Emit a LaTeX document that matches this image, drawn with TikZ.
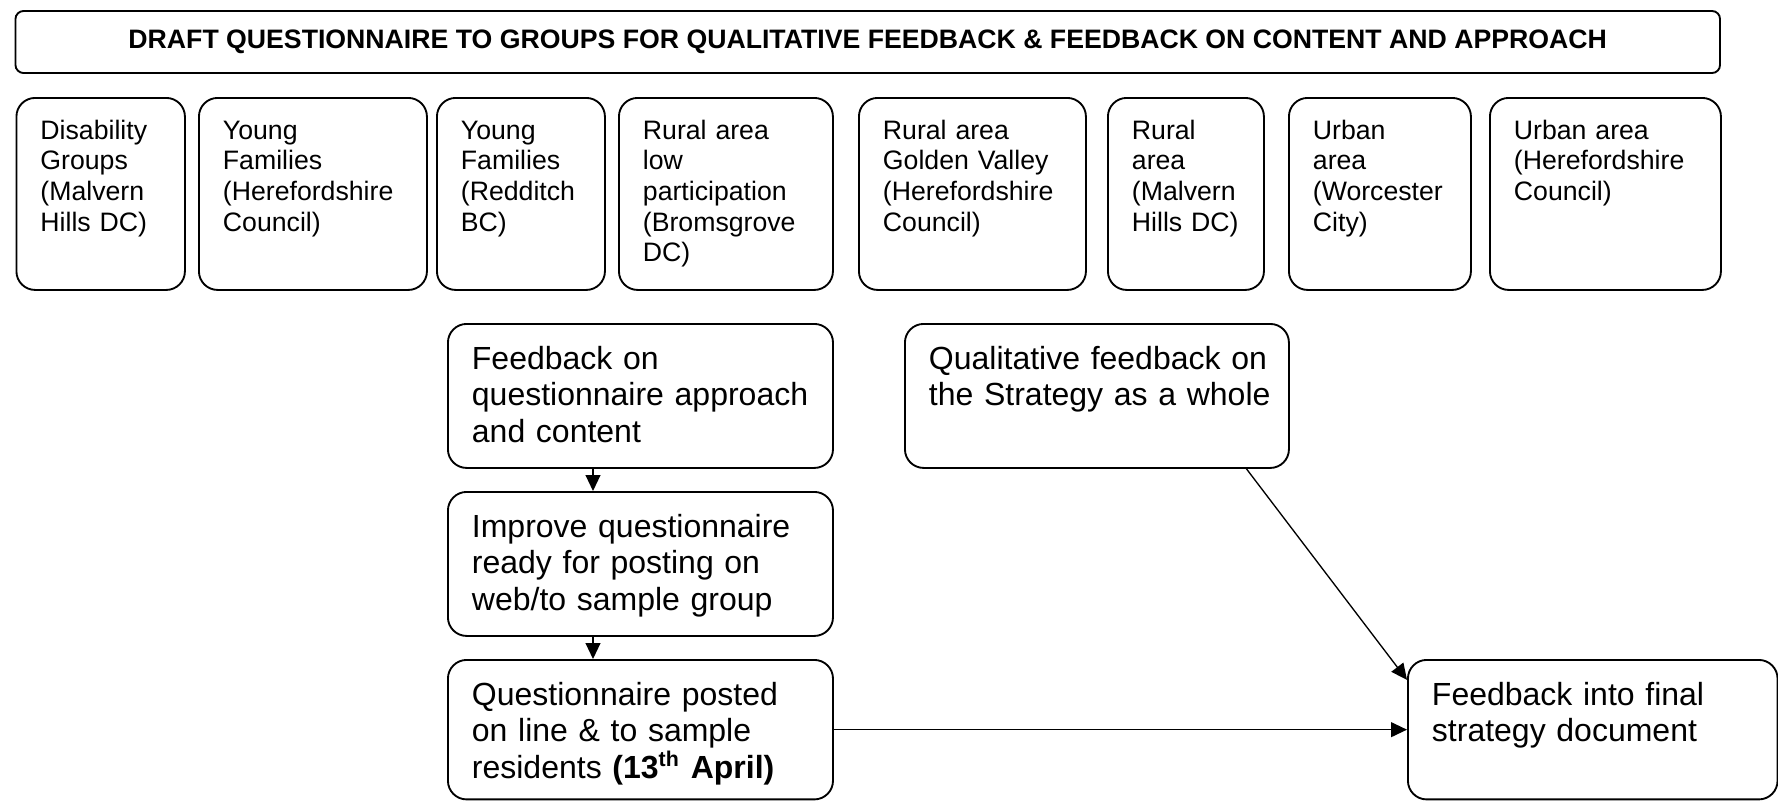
\documentclass[tikz,border=0pt]{standalone}
\usepackage{fontspec}
\setmainfont{Liberation Sans}
\usetikzlibrary{arrows.meta}

\tikzset{
	grp/.style={draw,line width=0.7pt,rounded corners=7pt,anchor=north west,align=left,inner xsep=9pt,inner ysep=0pt,text height=15.4pt,text depth=56.6pt,font=\fontsize{10}{11.5}\selectfont},
	stage/.style={draw,line width=0.7pt,rounded corners=7pt,anchor=north west,align=left,inner xsep=9pt,inner ysep=0pt,text height=16.9pt,font=\fontsize{12}{13.8}\selectfont},
	arr/.style={-{Triangle[length=6pt,width=5.6pt]},line width=0.5pt}
}

\begin{document}
\begin{tikzpicture}[x=0.375pt,y=-0.375pt]
	\useasboundingbox (0,0) rectangle (1778,800);
	\node[draw,line width=0.7pt,rounded corners=3pt,minimum width=639.2pt,minimum height=23.25pt,inner sep=0pt,font=\bfseries\fontsize{10}{11.5}\selectfont] (t) at (867.75,42) {DRAFT QUESTIONNAIRE TO GROUPS FOR QUALITATIVE FEEDBACK \& FEEDBACK ON CONTENT AND APPROACH};
	\foreach \i/\xl/\w/\txt in {
		1/15.5/168.5/{Disability\\Groups\\(Malvern\\Hills~DC)},
		2/198/228/{Young\\Families\\(Herefordshire\\Council)},
		3/436/168/{Young\\Families\\(Redditch\\BC)},
		4/618/214/{Rural area\\low\\participation\\(Bromsgrove\\DC)},
		5/858/227/{Rural area\\Golden Valley\\(Herefordshire\\Council)},
		6/1107/156/{Rural\\area\\(Malvern\\Hills~DC)},
		7/1288/182/{Urban\\area\\(Worcester\\City)},
		8/1489/231/{Urban area\\(Herefordshire\\Council)}} {
		\node[grp,text width={(\w-48)*0.375pt}] (g\i) at (\xl,97) {\txt};
	}
	\node[stage,text width=126.4pt,text depth=37.1pt] (f1) at (447,323) {Feedback on\\\mbox{questionnaire approach}\\and content};
	\node[stage,text width=126.4pt,text depth=37.1pt] (f2) at (447,491) {Improve questionnaire\\ready for posting on\\web/to sample group};
	\node[stage,text width=126.4pt,text depth=35.4pt] (f3) at (447,659) {Questionnaire posted\\on line \& to sample\\residents \textbf{(13\textsuperscript{th} April)}};
	\node[stage,text width=126pt,text depth=37.1pt] (q) at (904,323) {\mbox{Qualitative feedback on}\\\mbox{the Strategy as a whole}};
	\node[stage,text width=120.6pt,text depth=35.4pt] (d) at (1407,659) {Feedback into final\\strategy document};
	\draw[arr] ([xshift=-17.8pt]f1.south) -- ([xshift=-17.8pt]f2.north);
	\draw[arr] ([xshift=-17.8pt]f2.south) -- ([xshift=-17.8pt]f3.north);
	\draw[arr] (f3) -- (d);
	\draw[arr] (q.-26.6) -- (d.165.8);
\end{tikzpicture}
\end{document}
